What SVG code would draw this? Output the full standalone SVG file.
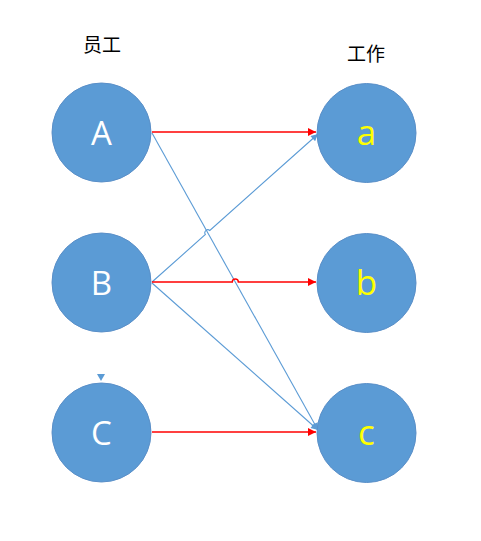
<svg xmlns="http://www.w3.org/2000/svg" width="481" height="541" viewBox="0 0 481 541">
<defs>
<style>
.node{fill:#5b9bd5;stroke:#5a8fc8;stroke-width:1}
.up{font-family:"Open Sans","Liberation Sans",sans-serif;font-size:33px;fill:#ffffff;text-anchor:middle}
.lo{font-family:"Open Sans","Liberation Sans",sans-serif;font-size:35px;fill:#ffff00;text-anchor:middle}
.hdr{font-family:"Noto Sans CJK SC","Liberation Sans",sans-serif;font-size:19px;fill:#000000}
.red{fill:none;stroke:#ff0000;stroke-width:1.4}
.blue{fill:none;stroke:#5b9bd5;stroke-width:1.1}
</style>
<marker id="ar" viewBox="0 0 10 10" refX="10" refY="5" markerWidth="10" markerHeight="8" markerUnits="userSpaceOnUse" orient="auto">
<path d="M0,0 L10,5 L0,10 z" fill="#ff0000"/>
</marker>
<marker id="ab" viewBox="0 0 10 10" refX="10" refY="5" markerWidth="8" markerHeight="7" markerUnits="userSpaceOnUse" orient="auto">
<path d="M0,0 L10,5 L0,10 z" fill="#5b9bd5"/>
</marker>
</defs>
<rect width="481" height="541" fill="#ffffff"/>
<text class="hdr" x="83" y="52">员工</text>
<text class="hdr" x="347" y="61">工作</text>
<g id="connectors">
<path class="blue" d="M152,133 L318,430" marker-end="url(#ab)"/>
<path class="blue" d="M152,282 L205.4,234.5 A3,3 0 0 1 209.8,230.5 L318,134" marker-end="url(#ab)"/>
<path class="blue" d="M152,283 L318,430" marker-end="url(#ab)"/>
<path class="red" d="M152,132 L316,132" marker-end="url(#ar)"/>
<path class="red" d="M152,282 L232.3,282 A3,3 0 0 1 238.3,282 L316,282" marker-end="url(#ar)"/>
<path class="red" d="M152,432 L316,432" marker-end="url(#ar)"/>
<polygon points="97,374 105,374 101,381" fill="#5b9bd5"/>
</g>
<g id="node-A"><circle class="node" cx="101.5" cy="132.5" r="49.5"/><text class="up" x="101.5" y="145">A</text></g>
<g id="node-B"><circle class="node" cx="101.5" cy="282.5" r="49.5"/><text class="up" x="101.5" y="295">B</text></g>
<g id="node-C"><circle class="node" cx="101.5" cy="432.5" r="49.5"/><text class="up" x="101.5" y="445">C</text></g>
<g id="node-a"><circle class="node" cx="366.5" cy="133" r="49.5"/><text class="lo" x="366.5" y="145">a</text></g>
<g id="node-b"><circle class="node" cx="366.5" cy="283" r="49.5"/><text class="lo" x="366.5" y="295">b</text></g>
<g id="node-c"><circle class="node" cx="366.5" cy="433" r="49.5"/><text class="lo" x="366.5" y="445">c</text></g>
</svg>
